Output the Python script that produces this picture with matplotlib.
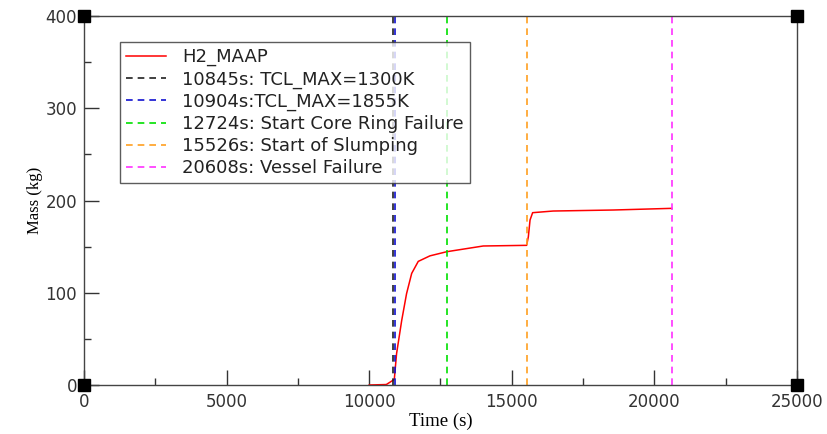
import matplotlib
matplotlib.use("Agg")
import matplotlib.pyplot as plt
from matplotlib.ticker import MultipleLocator

# H2 mass curve
time_s = [10000, 10600, 10880, 10960, 11140, 11310, 11490, 11720, 12130,
          12720, 14000, 15520, 15580, 15640, 15730, 16450, 18560, 20606]
mass_kg = [0, 0.5, 6, 34, 70, 99, 121, 134, 140,
           144.5, 150.7, 151.4, 160.7, 178.9, 186.8, 188.6, 189.7, 191.5]

events = [10845, 10904, 12724, 15526, 20608]
event_labels = ["10845s: TCL_MAX=1300K", "10904s:TCL_MAX=1855K",
                "12724s: Start Core Ring Failure", "15526s: Start of Slumping",
                "20608s: Vessel Failure"]
event_colors = ["#202020", "#1010d0", "#00e000", "#ffa020", "#ff30ff"]

fig = plt.figure(figsize=(8.28, 4.34), dpi=100)
ax = fig.add_axes([0.1014, 0.1129, 0.8612, 0.8502])

ax.plot(time_s, mass_kg, color="red", lw=1.1, label="H2_MAAP")
for t, lab, c in zip(events, event_labels, event_colors):
    ax.axvline(t, color=c, ls=(0, (4, 3)), lw=1.2, label=lab)

# black corner squares
ax.plot([0, 25000, 0, 25000], [0, 0, 400, 400], "s", color="black", ms=9,
        clip_on=False, zorder=5)

ax.set_xlim(0, 25000)
ax.set_ylim(0, 400)
ax.xaxis.set_major_locator(MultipleLocator(5000))
ax.xaxis.set_minor_locator(MultipleLocator(2500))
ax.yaxis.set_major_locator(MultipleLocator(100))
ax.yaxis.set_minor_locator(MultipleLocator(50))
ax.tick_params(axis="x", which="major", direction="in", length=10.5, width=1,
               labelsize=12, color="#333333", pad=6)
ax.tick_params(axis="x", which="minor", direction="in", length=5, width=1, color="#333333")
ax.tick_params(axis="y", which="major", direction="in", length=10.5, width=1,
               labelsize=12, color="#333333", pad=5)
ax.tick_params(axis="y", which="minor", direction="in", length=5, width=1, color="#333333")
for lbl in ax.get_xticklabels() + ax.get_yticklabels():
    lbl.set_color("#333333")
for s in ax.spines.values():
    s.set_color("#444444")
    s.set_linewidth(1)

ax.set_xlabel("Time (s)", fontsize=13.5, family="Liberation Serif", labelpad=1)
ax.set_ylabel("Mass (kg)", fontsize=12, family="Liberation Serif", labelpad=2)

leg = ax.legend(loc="upper left", bbox_to_anchor=(0.05, 0.93), fontsize=13,
                frameon=True, fancybox=False, handlelength=2.2, labelspacing=0.22,
                borderpad=0.35, borderaxespad=0, handletextpad=0.9)
leg.get_frame().set_edgecolor("#333333")
leg.get_frame().set_linewidth(1)
for txt in leg.get_texts():
    txt.set_color("#222222")

fig.savefig("out.png", dpi=100)
